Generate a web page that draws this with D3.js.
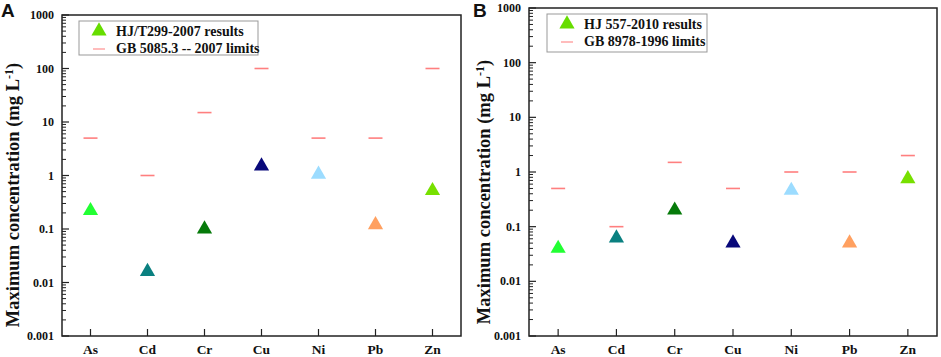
<!DOCTYPE html>
<html>
<head>
<meta charset="utf-8">
<script src="https://cdn.jsdelivr.net/npm/d3@7"></script>
<style>
  body { margin: 0; background: #fff; }
  svg text { font-family: "Liberation Serif", "Times New Roman", serif; font-weight: bold; fill: #111; }
</style>
</head>
<body>
<div id="chart"></div>
<script>
// Metals on the x axis (same for both panels)
const metals = ["As", "Cd", "Cr", "Cu", "Ni", "Pb", "Zn"];
const markerColors = ["#22ff33", "#0a8080", "#067a0a", "#08087a", "#9cdcff", "#ffa060", "#77e000"];

// Panel A: HJ/T299-2007 leaching results and GB 5085.3-2007 limits
const resultsA = [0.22, 0.016, 0.1, 1.5, 1.05, 0.12, 0.52];
const limitsA = [5, 1, 15, 100, 5, 5, 100];

// Panel B: HJ 557-2010 leaching results and GB 8978-1996 limits
const resultsB = [0.04, 0.062, 0.2, 0.05, 0.46, 0.05, 0.75];
const limitsB = [0.5, 0.1, 1.5, 0.5, 1, 1, 2];

const yTicks = [0.001, 0.01, 0.1, 1, 10, 100, 1000];
const yTickLabels = ["0.001", "0.01", "0.1", "1", "10", "100", "1000"];

const svg = d3.select("#chart")
    .append("svg")
    .attr("width", 941)
    .attr("height", 357);

function drawPanel(cfg) {
  const g = svg.append("g");

  const x = d3.scalePoint()
      .domain(metals)
      .range([cfg.left, cfg.right])
      .padding(0.5);

  const y = d3.scaleLog()
      .domain([0.001, 1000])
      .range([cfg.bottom, cfg.top]);

  // minor ticks 2..9 per decade
  const minor = [];
  for (let e = -3; e < 3; e++) {
    for (let k = 2; k <= 9; k++) minor.push(k * Math.pow(10, e));
  }
  g.selectAll(".minor")
    .data(minor)
    .enter().append("line")
    .attr("x1", cfg.left).attr("x2", cfg.left + 4)
    .attr("y1", d => y(d)).attr("y2", d => y(d))
    .attr("stroke", "#222").attr("stroke-width", 1);

  g.selectAll(".major")
    .data(yTicks)
    .enter().append("line")
    .attr("x1", cfg.left).attr("x2", cfg.left + 7)
    .attr("y1", d => y(d)).attr("y2", d => y(d))
    .attr("stroke", "#222").attr("stroke-width", 1.2);

  g.selectAll(".ylab")
    .data(yTicks)
    .enter().append("text")
    .attr("x", cfg.left - 8)
    .attr("y", d => y(d) + 4)
    .attr("text-anchor", "end")
    .attr("font-size", 12)
    .text((d, i) => yTickLabels[i]);

  // x ticks (inward) and labels
  g.selectAll(".xtick")
    .data(metals)
    .enter().append("line")
    .attr("x1", d => x(d)).attr("x2", d => x(d))
    .attr("y1", cfg.bottom).attr("y2", cfg.bottom - 7)
    .attr("stroke", "#222").attr("stroke-width", 1.2);

  g.selectAll(".xlab")
    .data(metals)
    .enter().append("text")
    .attr("x", d => x(d))
    .attr("y", cfg.bottom + 18)
    .attr("text-anchor", "middle")
    .attr("font-size", 13.5)
    .text(d => d);

  // frame
  g.append("rect")
    .attr("x", cfg.left).attr("y", cfg.top)
    .attr("width", cfg.right - cfg.left).attr("height", cfg.bottom - cfg.top)
    .attr("fill", "none").attr("stroke", "#222").attr("stroke-width", 1.5);

  // limits
  g.selectAll(".limit")
    .data(cfg.limits)
    .enter().append("line")
    .attr("x1", (d, i) => x(metals[i]) - 7).attr("x2", (d, i) => x(metals[i]) + 7)
    .attr("y1", d => y(d)).attr("y2", d => y(d))
    .attr("stroke", "#ff7f7f").attr("stroke-width", 1.6);

  // results
  const tri = d3.symbol().type(d3.symbolTriangle).size(100);
  g.selectAll(".result")
    .data(cfg.results)
    .enter().append("path")
    .attr("d", tri)
    .attr("transform", (d, i) => `translate(${x(metals[i])},${y(d)})`)
    .attr("fill", (d, i) => markerColors[i]);

  // legend
  const lg = g.append("g");
  lg.append("rect")
    .attr("x", cfg.legX).attr("y", cfg.legY)
    .attr("width", cfg.legW).attr("height", cfg.legH)
    .attr("fill", "#fff").attr("stroke", "#999").attr("stroke-width", 1);
  lg.append("path")
    .attr("d", tri)
    .attr("transform", `translate(${cfg.legX + 20},${cfg.legY + 10})`)
    .attr("fill", "#66dd00");
  lg.append("line")
    .attr("x1", cfg.legX + 14).attr("x2", cfg.legX + 26)
    .attr("y1", cfg.legY + 28).attr("y2", cfg.legY + 28)
    .attr("stroke", "#ff9f9f").attr("stroke-width", 1.4);
  lg.append("text")
    .attr("x", cfg.legX + 37).attr("y", cfg.legY + 15)
    .attr("font-size", 14)
    .text(cfg.legend[0]);
  lg.append("text")
    .attr("x", cfg.legX + 37).attr("y", cfg.legY + 32)
    .attr("font-size", 14)
    .text(cfg.legend[1]);

  // y axis title
  const t = g.append("text")
    .attr("transform", `translate(${cfg.titleX},${cfg.titleY}) rotate(-90)`)
    .attr("text-anchor", "middle")
    .attr("font-size", 18.5);
  t.append("tspan").text("Maximum concentration (mg L");
  t.append("tspan").attr("dy", -6).attr("font-size", 12).text("-1");
  t.append("tspan").attr("dy", 6).text(")");

  // panel letter
  g.append("text")
    .attr("x", cfg.letterX).attr("y", 17)
    .style("font-family", "'Liberation Sans', Arial, sans-serif")
    .attr("font-size", 19)
    .text(cfg.letter);
}

drawPanel({
  left: 62, right: 461, top: 15, bottom: 336,
  results: resultsA, limits: limitsA,
  legX: 79, legY: 21, legW: 179, legH: 34,
  legend: ["HJ/T299-2007 results", "GB 5085.3 -- 2007 limits"],
  titleX: 19, titleY: 195, letterX: 1, letter: "A"
});

drawPanel({
  left: 529, right: 937, top: 8, bottom: 336,
  results: resultsB, limits: limitsB,
  legX: 547, legY: 14, legW: 160, legH: 38,
  legend: ["HJ 557-2010 results", "GB 8978-1996 limits"],
  titleX: 490, titleY: 192, letterX: 473, letter: "B"
});
</script>
</body>
</html>
